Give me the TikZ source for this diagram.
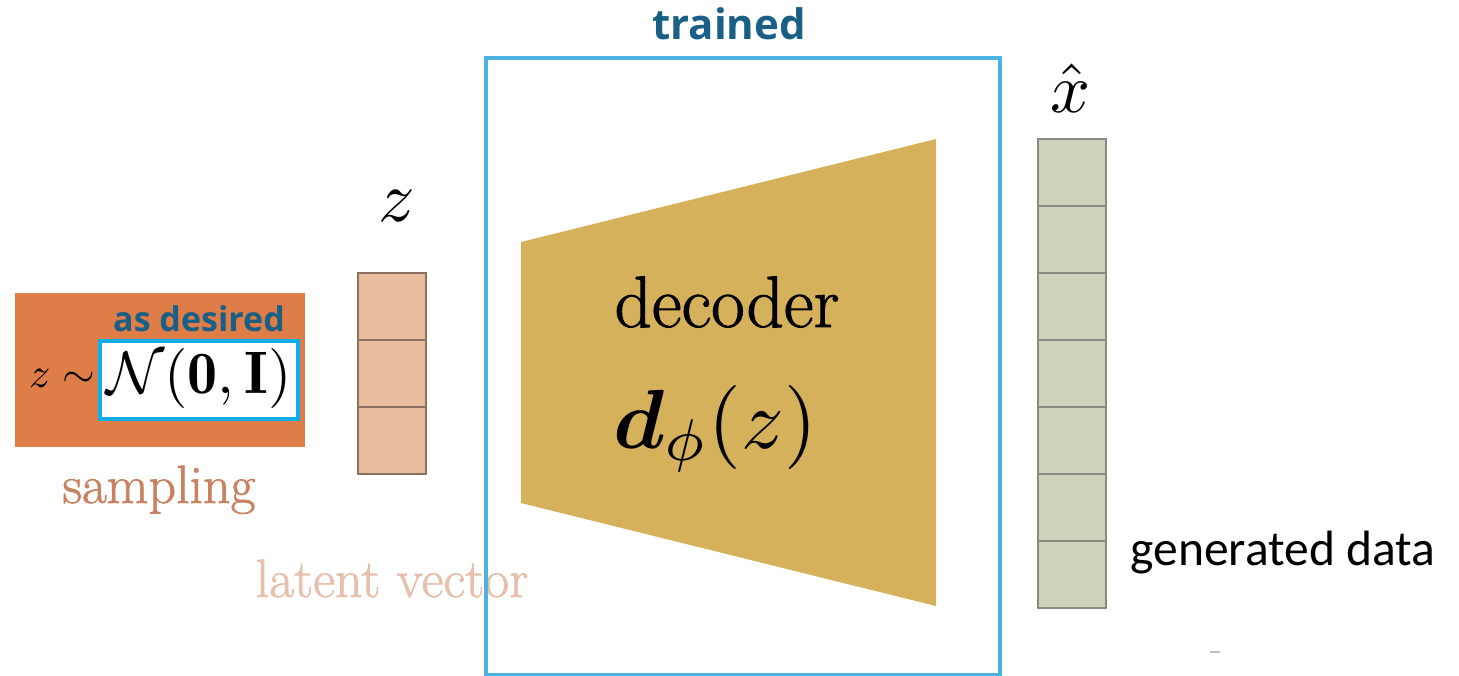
\documentclass[tikz,border=0pt]{standalone}
\usepackage{amsmath,bm}
\usepackage{fontspec}
\newfontfamily\headfont{Open Sans}
\newfontfamily\notefont{Carlito}
\newfontfamily\heavyserif{Latin Modern Roman}[FakeBold=1.2]
\usetikzlibrary{positioning}

\definecolor{sampleorange}{RGB}{223,125,72}
\definecolor{samplelabel}{RGB}{200,130,98}
\definecolor{latentlabel}{RGB}{230,192,172}
\definecolor{latentfill}{RGB}{233,188,158}
\definecolor{latentedge}{RGB}{140,112,100}
\definecolor{outfill}{RGB}{208,210,188}
\definecolor{outedge}{RGB}{138,138,128}
\definecolor{decoderfill}{RGB}{213,177,92}
\definecolor{trainblue}{RGB}{74,179,226}
\definecolor{markblue}{RGB}{16,174,234}
\definecolor{headblue}{RGB}{26,95,133}

% math set at 10pt and enlarged
\newcommand{\bigmath}[2]{\scalebox{#1}{$#2$}}

\tikzset{
  cell/.style={draw, line width=1.2pt, minimum width=34pt, minimum height=33.5pt,
               inner sep=0pt, outer sep=0pt},
  latentcell/.style={cell, fill=latentfill, draw=latentedge},
  outcell/.style={cell, fill=outfill, draw=outedge},
  headtext/.style={text=headblue, font=\headfont\bfseries},
  serif/.style={inner sep=0pt},
}

\begin{document}
\begin{tikzpicture}[x=0.5pt, y=-0.5pt]
\useasboundingbox (0,0) rectangle (1459,675);

% sampling block
\node[fill=sampleorange, minimum width=145pt, minimum height=77pt, inner sep=0pt,
      anchor=north west] (sample) at (15,293) {};
\node[fill=white, draw=markblue, line width=2pt, minimum width=99pt, minimum height=39pt,
      inner sep=0pt, anchor=north west] (prior) at (98,339) {};
\node[serif, anchor=center] (dist) at (199,378)
  {\bigmath{3}{\mathcal{N}(\mathbf{0},\mathbf{I})}};
\node[serif, anchor=center] (tilde) at (62,378)
  {\bigmath{2.1}{z\sim}};
\node[headtext, anchor=base, inner sep=0pt] (desired) at (199,331)
  {\fontsize{17}{20}\selectfont as desired};
\node[serif, anchor=base, text=samplelabel] (samplelbl) at (159,503)
  {\heavyserif\fontsize{27}{30}\selectfont sampling};

% latent vector
\node[latentcell, anchor=north west] (z1) at (358,273) {};
\node[latentcell, below=0pt of z1] (z2) {};
\node[latentcell, below=0pt of z2] (z3) {};
\node[serif] (zlbl) at (397,206) {\bigmath{3.6}{z}};
\node[serif, anchor=base, text=latentlabel] (latentlbl) at (392,597)
  {\heavyserif\fontsize{27}{30}\selectfont latent vector};

% decoder
\coordinate (dlt) at (521,242);
\coordinate (drt) at (936,139);
\coordinate (drb) at (936,606);
\coordinate (dlb) at (521,503);
\fill[decoderfill] (dlt) -- (drt) -- (drb) -- (dlb) -- cycle;
\node[serif, anchor=base] (declbl) at (727,327)
  {\heavyserif\fontsize{36.5}{40}\selectfont decoder};
\node[serif, anchor=base] (decfun) at (715,448)
  {\bigmath{4.2}{\bm{d}_{\phi}(z)}};

% trained region
\node[draw=trainblue, line width=2pt, minimum width=257pt, minimum height=308.5pt,
      inner sep=0pt, anchor=north west] (trained) at (484,56) {};
\node[headtext, anchor=base, inner sep=0pt] (trainlbl) at (729,39)
  {\fontsize{21}{25}\selectfont trained};

% generated output vector
\node[outcell, anchor=north west] (x1) at (1038,139) {};
\node[outcell, below=0pt of x1] (x2) {};
\node[outcell, below=0pt of x2] (x3) {};
\node[outcell, below=0pt of x3] (x4) {};
\node[outcell, below=0pt of x4] (x5) {};
\node[outcell, below=0pt of x5] (x6) {};
\node[outcell, below=0pt of x6] (x7) {};
\node[serif] (xlbl) at (1070,88) {\bigmath{3.5}{\hat{x}}};
\node[serif, anchor=base west] (genlbl) at (1130,565)
  {\notefont\fontsize{24.8}{28}\selectfont generated data};

% faint mark below the output
\coordinate (m1) at (1210,652);
\coordinate (m2) at (1220,652);
\draw[black!25, line width=1pt] (m1) -- (m2);
\end{tikzpicture}
\end{document}
